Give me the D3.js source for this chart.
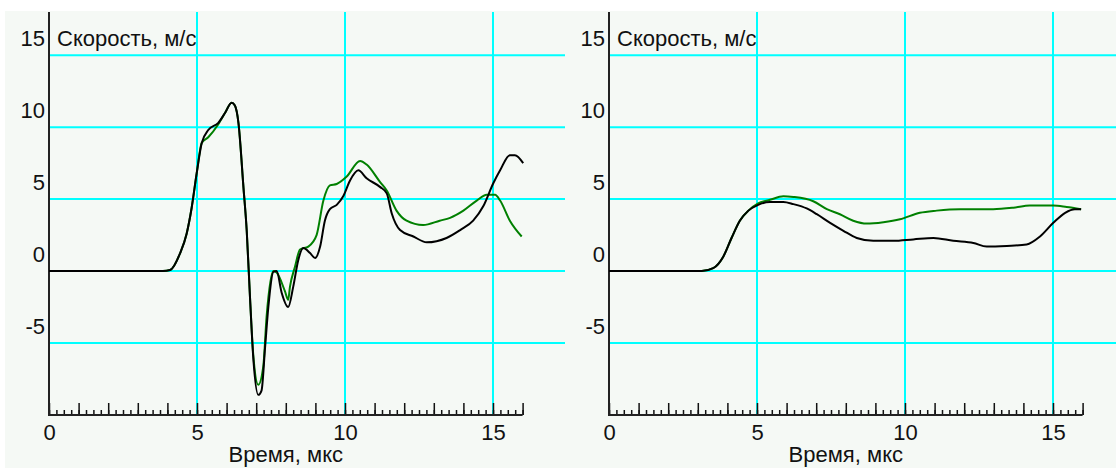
<!DOCTYPE html>
<html>
<head>
<meta charset="utf-8">
<script src="https://cdn.jsdelivr.net/npm/d3@7"></script>
<style>
  body { margin: 0; background: #ffffff; }
  svg { display: block; }
</style>
</head>
<body>
<svg></svg>
<script>
const width = 1116;
const height = 468;

// time (мкс), velocity (м/с)
const leftBlack = [
  [0, 0], [3.85, 0], [4.09, 0.07], [4.43, 1.25], [4.65, 2.6], [4.82, 4.4], [4.99, 6.8],
  [5.16, 8.9], [5.38, 9.8], [5.72, 10.3], [5.95, 11.0], [6.17, 11.7], [6.28, 11.5],
  [6.40, 10.3], [6.57, 5.8], [6.68, 2.8], [6.79, -1.8], [6.90, -6.0], [7.07, -8.6],
  [7.18, -8.3], [7.30, -5.3], [7.41, -2.5], [7.58, -0.05], [7.69, 0], [7.86, -1.5],
  [8.08, -2.5], [8.25, -1.1], [8.42, 0.76], [8.59, 1.6], [8.82, 1.25], [8.99, 0.9],
  [9.16, 1.7], [9.32, 3.5], [9.49, 4.3], [9.72, 4.6], [9.94, 5.2], [10.17, 6.3],
  [10.45, 7.0], [10.73, 6.45], [11.18, 5.85], [11.41, 5.4], [11.58, 4.0], [11.86, 2.85],
  [12.31, 2.4], [12.76, 2.0], [13.43, 2.3], [13.89, 2.85], [14.33, 3.5], [14.67, 4.5],
  [15.01, 6.1], [15.24, 7.0], [15.57, 8.05], [15.74, 8.05], [16.02, 7.5]
];
const leftGreen = [
  [0, 0], [3.85, 0], [4.09, 0.07], [4.43, 1.25], [4.65, 2.6], [4.82, 4.4], [4.99, 6.8],
  [5.16, 8.9], [5.38, 9.3], [5.72, 10.2], [5.95, 11.0], [6.17, 11.7], [6.28, 11.5],
  [6.40, 10.3], [6.57, 5.8], [6.68, 2.8], [6.79, -1.8], [6.90, -5.8], [7.07, -7.9],
  [7.24, -6.6], [7.35, -3.2], [7.58, 0], [7.69, -0.1], [7.97, -1.4], [8.08, -2.0],
  [8.14, -1.1], [8.31, 0.3], [8.48, 1.5], [8.76, 1.7], [9.04, 2.5], [9.27, 4.9],
  [9.49, 5.95], [9.72, 6.05], [10.05, 6.55], [10.51, 7.65], [10.73, 7.4], [11.18, 6.2],
  [11.41, 5.6], [11.74, 4.2], [12.08, 3.5], [12.64, 3.2], [13.2, 3.5], [13.55, 3.7],
  [14.0, 4.2], [14.45, 4.9], [14.79, 5.3], [15.07, 5.3], [15.24, 4.9], [15.57, 3.5],
  [15.97, 2.4]
];
const rightBlack = [
  [0, 0], [3.13, 0], [3.52, 0.2], [3.86, 1.0], [4.14, 2.3], [4.42, 3.5], [4.71, 4.2],
  [5.04, 4.6], [5.44, 4.8], [5.89, 4.8], [6.23, 4.65], [6.68, 4.35], [7.02, 3.95],
  [7.47, 3.35], [7.92, 2.8], [8.37, 2.3], [8.93, 2.1], [9.6, 2.1], [10.28, 2.2],
  [10.96, 2.3], [11.63, 2.1], [12.31, 1.95], [12.76, 1.7], [13.44, 1.75], [14.11, 1.85],
  [14.56, 2.4], [15.01, 3.35], [15.41, 4.05], [15.74, 4.3], [15.95, 4.3]
];
const rightGreen = [
  [0, 0], [3.13, 0], [3.52, 0.2], [3.86, 1.0], [4.14, 2.3], [4.42, 3.5], [4.71, 4.2],
  [5.04, 4.7], [5.44, 4.95], [5.89, 5.2], [6.23, 5.15], [6.9, 4.85], [7.36, 4.3],
  [7.8, 3.95], [8.25, 3.5], [8.71, 3.3], [9.27, 3.4], [9.83, 3.6], [10.5, 4.05],
  [11.07, 4.2], [11.86, 4.3], [12.98, 4.3], [13.66, 4.4], [14.22, 4.55], [15.01, 4.55],
  [15.46, 4.45], [15.95, 4.3]
];

const xTicksLabeled = [0, 5, 10, 15];
const yTicks = [15, 10, 5, 0, -5];
const yTitle = "Скорость, м/с";
const xTitle = "Время, мкс";

const font = '"Liberation Sans", Arial, sans-serif';
const fontSize = "22px";

const svg = d3.select("svg")
  .attr("width", width)
  .attr("height", height)
  .style("font-family", font);

const x = d3.scaleLinear().domain([0, 16]).range([49, 522.6]);
const y = d3.scaleLinear().domain([-10, 18]).range([415, 12]);

const line = d3.line()
  .curve(d3.curveMonotoneX)
  .x(d => x(d[0]))
  .y(d => y(d[1]));

function drawPanel(offsetX, bgLeft, bgRight, black, green) {
  const g = svg.append("g").attr("transform", `translate(${offsetX},0)`);

  g.append("rect")
    .attr("x", bgLeft)
    .attr("y", 11)
    .attr("width", bgRight - bgLeft)
    .attr("height", height - 11)
    .attr("fill", "#f5f9f5");

  // horizontal grid
  g.selectAll("line.hgrid")
    .data(yTicks)
    .enter()
    .append("line")
    .attr("class", "hgrid")
    .attr("x1", x(0))
    .attr("x2", bgRight)
    .attr("y1", d => y(d))
    .attr("y2", d => y(d))
    .attr("stroke", "#00ffff")
    .attr("stroke-width", 2);

  // vertical grid
  g.selectAll("line.vgrid")
    .data([5, 10, 15])
    .enter()
    .append("line")
    .attr("class", "vgrid")
    .attr("x1", d => x(d))
    .attr("x2", d => x(d))
    .attr("y1", y(18))
    .attr("y2", y(-10))
    .attr("stroke", "#00ffff")
    .attr("stroke-width", 2);

  // minor ticks
  g.append("g")
    .attr("transform", `translate(0,${y(-10)})`)
    .call(d3.axisBottom(x)
      .tickValues(d3.range(0, 16.01, 0.25))
      .tickSize(-5)
      .tickFormat(""))
    .call(a => a.select(".domain").remove());

  // major ticks
  g.append("g")
    .attr("transform", `translate(0,${y(-10)})`)
    .call(d3.axisBottom(x)
      .tickValues(d3.range(0, 17, 1))
      .tickSize(-12)
      .tickFormat(""))
    .call(a => a.select(".domain").remove());

  g.selectAll(".tick line")
    .attr("stroke", "#111")
    .attr("stroke-width", 1.5);

  // x labels
  const xl = g.append("g")
    .attr("transform", `translate(0,${y(-10)})`)
    .call(d3.axisBottom(x)
      .tickValues(xTicksLabeled)
      .tickSize(0)
      .tickFormat(d3.format("d")));
  xl.select(".domain").remove();
  xl.selectAll("text")
    .attr("y", 25)
    .attr("dy", null)
    .attr("fill", "#111")
    .style("font-family", font)
    .style("font-size", fontSize);

  // axis lines
  g.append("line")
    .attr("x1", x(0)).attr("x2", x(0))
    .attr("y1", y(18)).attr("y2", y(-10))
    .attr("stroke", "#222").attr("stroke-width", 2);
  g.append("line")
    .attr("x1", x(0) - 1).attr("x2", x(16))
    .attr("y1", y(-10)).attr("y2", y(-10))
    .attr("stroke", "#222").attr("stroke-width", 2);

  // y labels
  g.selectAll("text.ylab")
    .data(yTicks)
    .enter()
    .append("text")
    .attr("class", "ylab")
    .attr("x", x(0) - 4)
    .attr("y", d => y(d) - 9)
    .attr("text-anchor", "end")
    .attr("fill", "#111")
    .style("font-size", fontSize)
    .text(d => d);

  g.append("text")
    .attr("x", x(0) + 8)
    .attr("y", y(15) - 9)
    .attr("fill", "#111")
    .style("font-size", fontSize)
    .text(yTitle);

  g.append("text")
    .attr("x", (x(0) + x(16)) / 2)
    .attr("y", 462)
    .attr("text-anchor", "middle")
    .attr("fill", "#111")
    .style("font-size", fontSize)
    .text(xTitle);

  g.append("path")
    .datum(green)
    .attr("d", line)
    .attr("fill", "none")
    .attr("stroke", "#008000")
    .attr("stroke-width", 2);

  g.append("path")
    .datum(black)
    .attr("d", line)
    .attr("fill", "none")
    .attr("stroke", "#000")
    .attr("stroke-width", 2);
}

drawPanel(0, 5, 565, leftBlack, leftGreen);
drawPanel(560, 5, 556, rightBlack, rightGreen);
</script>
</body>
</html>
